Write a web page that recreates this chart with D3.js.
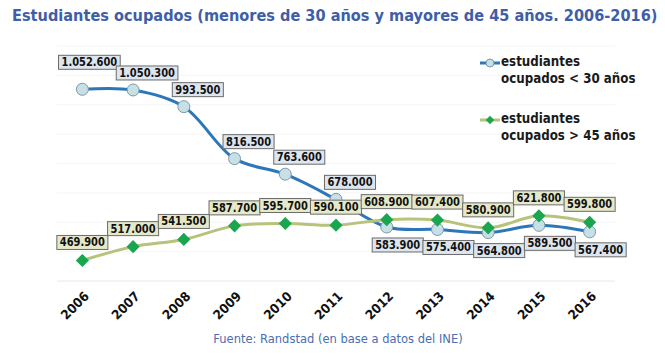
<!DOCTYPE html>
<html>
<head>
<meta charset="utf-8">
<script src="https://cdn.jsdelivr.net/npm/d3@7"></script>
<style>
  body { margin: 0; background: #fff; }
  svg { font-family: "DejaVu Sans", sans-serif; }
</style>
</head>
<body>
<div id="Chart"></div>
<script>
var years = ["2006", "2007", "2008", "2009", "2010", "2011", "2012", "2013", "2014", "2015", "2016"];
var under30 = [1052600, 1050300, 993500, 816500, 763600, 678000, 583900, 575400, 564800, 589500, 567400];
var over45 = [469900, 517000, 541500, 587700, 595700, 590100, 608900, 607400, 580900, 621800, 599800];
var yTicks = [400000, 500000, 600000, 700000, 800000, 900000, 1000000, 1100000, 1200000];
var seriesNames = [["estudiantes", "ocupados < 30 años"], ["estudiantes", "ocupados > 45 años"]];

var svgWidth = 665;
var svgHeight = 362;

var svg = d3.select("#Chart")
  .append("svg")
  .attr("width", svgWidth)
  .attr("height", svgHeight);

var es = d3.formatLocale({ decimal: ",", thousands: ".", grouping: [3], currency: ["", ""] });
var fmt = es.format(",.0f");

// squeeze DejaVu a bit so it looks like the narrower original face
function condense(sel, k) {
  sel.each(function () {
    var w = this.getComputedTextLength();
    d3.select(this).attr("textLength", w * k).attr("lengthAdjust", "spacingAndGlyphs");
  });
}

// scales
var x = d3.scalePoint()
  .domain(years)
  .range([57, 615])
  .padding(0.5);

var y = d3.scaleLinear()
  .domain([400000, 1200000])
  .range([281, 46]);

// title, scaled horizontally to the reference width
var title = svg.append("text")
  .attr("fill", "#3e5ea8")
  .attr("font-weight", "bold")
  .attr("font-size", 16)
  .text("Estudiantes ocupados (menores de 30 años y mayores de 45 años. 2006-2016)");
var tw = title.node().getComputedTextLength();
title.attr("transform", `translate(12, 21) scale(${646 / tw}, 1)`);

// faint gridlines
svg.append("g")
  .selectAll("line")
  .data(yTicks)
  .enter()
  .append("line")
  .attr("x1", 57)
  .attr("x2", 615)
  .attr("y1", d => y(d))
  .attr("y2", d => y(d))
  .attr("stroke", d => d === 400000 ? "#e8e8e8" : "#f5f5f5")
  .attr("stroke-width", 1);

// x axis labels
var xAxis = d3.axisBottom(x).tickSize(0).tickPadding(0);
var gx = svg.append("g")
  .attr("transform", "translate(0, 291)")
  .call(xAxis);
gx.select(".domain").remove();
gx.selectAll("text")
  .attr("font-family", "\"DejaVu Sans\", sans-serif")
  .attr("font-size", 13)
  .attr("font-weight", "bold")
  .attr("fill", "#111")
  .attr("text-anchor", "end")
  .attr("dy", 0)
  .attr("transform", "translate(7, 6) rotate(-45)")
  .call(condense, 0.92);

var line = d3.line()
  .x((d, i) => x(years[i]))
  .y(d => y(d))
  .curve(d3.curveCatmullRom.alpha(0.5));

svg.append("path")
  .datum(under30)
  .attr("d", line)
  .attr("fill", "none")
  .attr("stroke", "#2b77b9")
  .attr("stroke-width", 3);

svg.append("path")
  .datum(over45)
  .attr("d", line)
  .attr("fill", "none")
  .attr("stroke", "#b7c27b")
  .attr("stroke-width", 3);

svg.append("g")
  .selectAll("circle")
  .data(under30)
  .enter()
  .append("circle")
  .attr("cx", (d, i) => x(years[i]))
  .attr("cy", d => y(d))
  .attr("r", 6)
  .attr("fill", "#c7e0e6")
  .attr("stroke", "#7d9aa6")
  .attr("stroke-width", 1);

var diamond = d3.symbol().type(d3.symbolDiamond2).size(110);
svg.append("g")
  .selectAll("path")
  .data(over45)
  .enter()
  .append("path")
  .attr("d", diamond)
  .attr("transform", (d, i) => `translate(${x(years[i])}, ${y(d)})`)
  .attr("fill", "#1aa64f");

// data labels
function addLabel(cx, cy, txt, fill) {
  var g = svg.append("g");
  var t = g.append("text")
    .attr("x", cx)
    .attr("y", cy + 4)
    .attr("text-anchor", "middle")
    .attr("font-size", 11.5)
    .attr("font-weight", "bold")
    .attr("fill", "#111")
    .text(txt);
  var w = t.node().getComputedTextLength() * 0.86;
  t.attr("textLength", w).attr("lengthAdjust", "spacingAndGlyphs");
  w += 6;
  g.insert("rect", "text")
    .attr("x", cx - w / 2)
    .attr("y", cy - 7)
    .attr("width", w)
    .attr("height", 14)
    .attr("fill", fill)
    .attr("stroke", "#6b6b6b")
    .attr("stroke-width", 1);
}

under30.forEach(function (d, i) {
  var px = x(years[i]), py = y(d);
  if (i === 0) {
    addLabel(px + 7, py - 27, fmt(d), "#dde5ee");
  } else if (d > over45[i]) {
    addLabel(px + 14, py - 17, fmt(d), "#dde5ee");
  } else {
    addLabel(px + 11, py + 18, fmt(d), "#dde5ee");
  }
});

over45.forEach(function (d, i) {
  addLabel(x(years[i]), y(d) - 18, fmt(d), "#e5e9c9");
});

// legend
var legendY = [63, 120];
var legend = svg.append("g");
legendY.forEach(function (ly, k) {
  legend.append("line")
    .attr("x1", 480).attr("x2", 500)
    .attr("y1", ly).attr("y2", ly)
    .attr("stroke", k === 0 ? "#2b77b9" : "#b7c27b")
    .attr("stroke-width", 3);
  if (k === 0) {
    legend.append("circle")
      .attr("cx", 490).attr("cy", ly).attr("r", 4)
      .attr("fill", "#c7e0e6").attr("stroke", "#7d9aa6");
  } else {
    legend.append("path")
      .attr("d", d3.symbol().type(d3.symbolDiamond2).size(45))
      .attr("transform", `translate(490, ${ly})`)
      .attr("fill", "#1aa64f");
  }
  seriesNames[k].forEach(function (s, j) {
    legend.append("text")
      .attr("x", 501)
      .attr("y", ly + 3 + j * 16.5)
      .attr("font-size", 13.5)
      .attr("font-weight", "bold")
      .attr("fill", "#1a1a1a")
      .text(s)
      .call(condense, 0.88);
  });
});

// source
svg.append("text")
  .attr("x", 338)
  .attr("y", 343)
  .attr("text-anchor", "middle")
  .attr("font-size", 12.5)
  .attr("fill", "#4a6db3")
  .text("Fuente: Randstad (en base a datos del INE)")
  .call(condense, 0.92);
</script>
</body>
</html>
